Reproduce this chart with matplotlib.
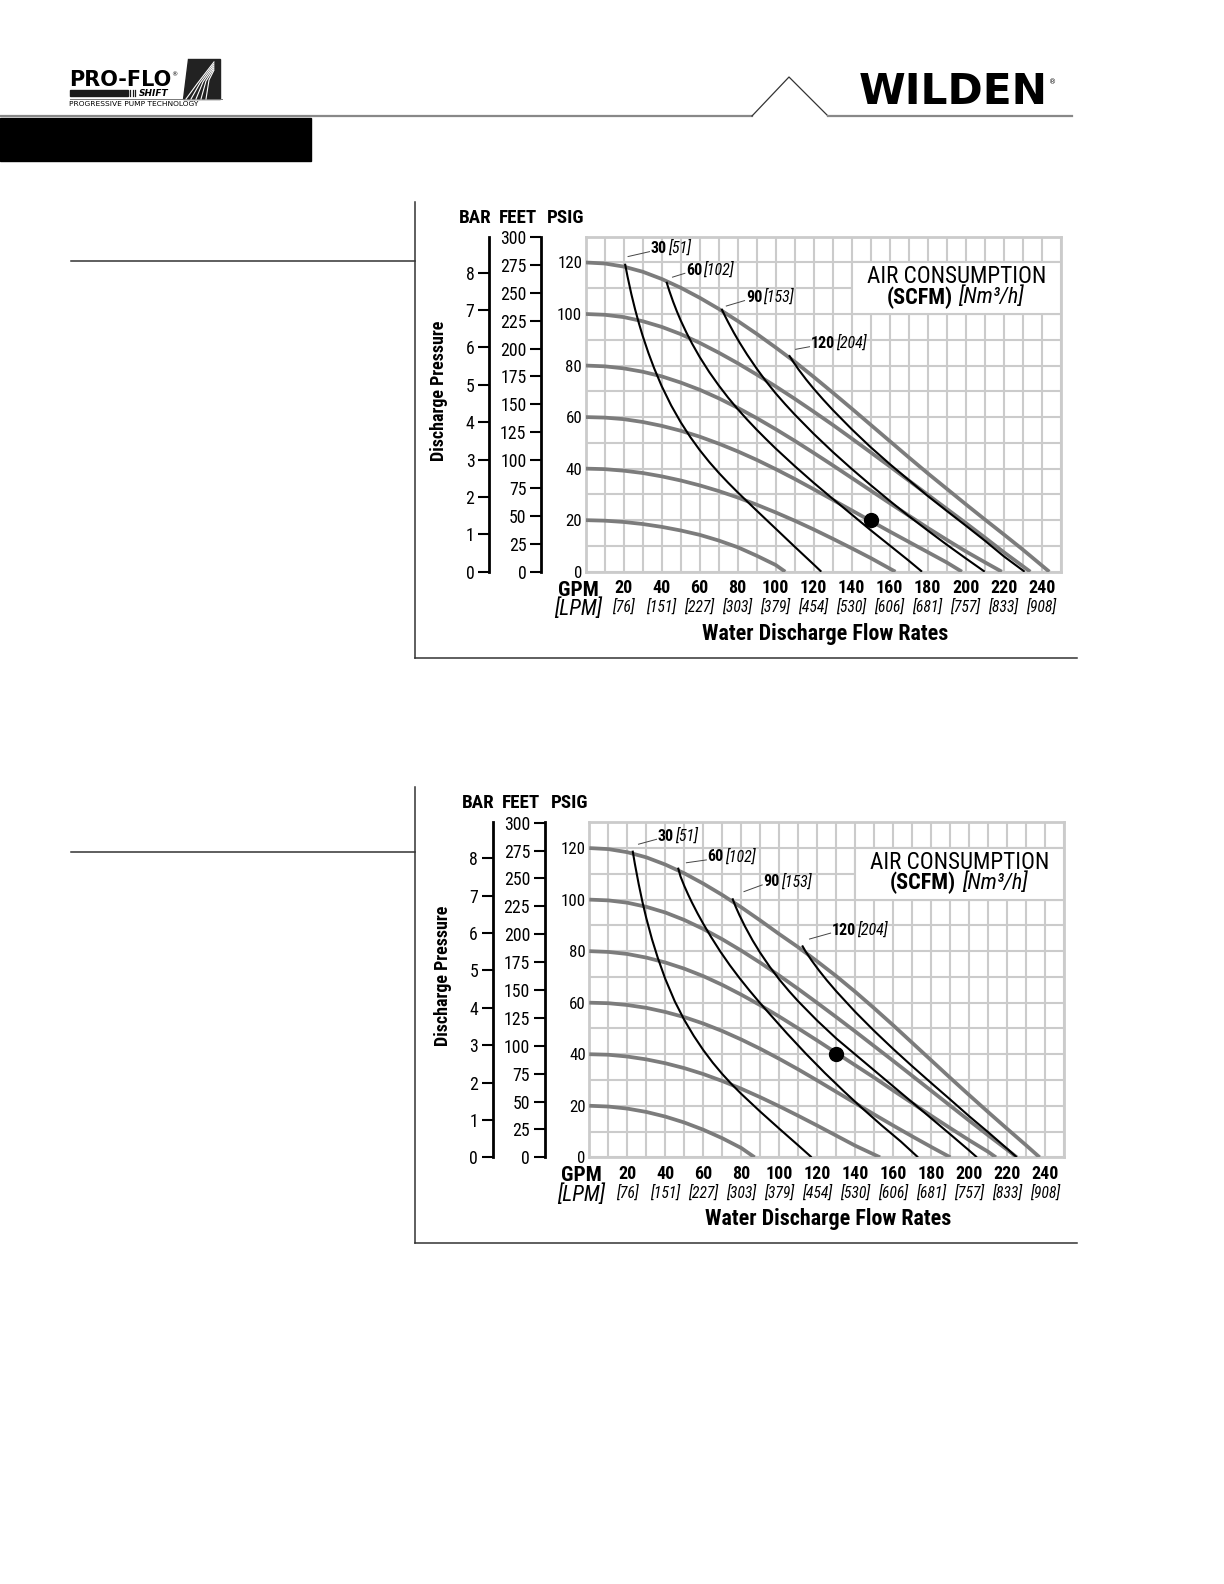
import os
import matplotlib
matplotlib.use("Agg")
import matplotlib.pyplot as plt
from matplotlib import font_manager, transforms
from matplotlib.patches import Rectangle, Polygon

W, H = 1224, 1584

# ---------------- data ----------------
PSIG_TICKS = [0, 20, 40, 60, 80, 100, 120]
FEET_TICKS = [0, 25, 50, 75, 100, 125, 150, 175, 200, 225, 250, 275, 300]
BAR_TICKS = [0, 1, 2, 3, 4, 5, 6, 7, 8]
GPM_TICKS = [20, 40, 60, 80, 100, 120, 140, 160, 180, 200, 220, 240]
LPM_LABELS = ['[76]', '[151]', '[227]', '[303]', '[379]', '[454]', '[530]',
              '[606]', '[681]', '[757]', '[833]', '[908]']
AIR_SCFM = ['30', '60', '90', '120']
AIR_NM3H = ['[51]', '[102]', '[153]', '[204]']
FT_PER_PSI = 2.31
PSI_PER_BAR = 14.504

# upper chart: inlet air pressure curves (gpm, psig)
TOP_P20 = [(0, 20), (10, 19.8), (20, 19.3), (30, 18.5), (40, 17.4), (50, 16), (60, 14.3), (70, 12.1),
           (80, 9.5), (90, 6.2), (100, 2.6), (105, 0)]
TOP_P40 = [(0, 40), (10, 39.8), (20, 39.2), (30, 38.3), (40, 37), (50, 35.4), (60, 33.5), (70, 31.3),
           (80, 28.8), (90, 26), (100, 23), (110, 19.8), (120, 16.4), (130, 12.8), (140, 9.1), (150, 5.3),
           (163, 0)]
TOP_P60 = [(0, 60), (10, 59.8), (20, 59.2), (30, 58.1), (40, 56.6), (50, 54.7), (60, 52.4), (70, 49.7),
           (80, 46.7), (90, 43.4), (100, 39.8), (110, 36), (120, 32), (130, 27.9), (140, 23.8), (150, 19.7),
           (160, 15.6), (170, 11.6), (180, 7.6), (190, 3.6), (198, 0)]
TOP_P80 = [(0, 80), (10, 79.7), (20, 78.9), (30, 77.6), (40, 75.8), (50, 73.4), (60, 70.6), (70, 67.3),
           (80, 63.6), (90, 59.6), (100, 55.3), (110, 50.8), (120, 46.1), (130, 41.3), (140, 36.4), (150, 31.5),
           (160, 26.6), (170, 21.8), (180, 17), (190, 12.4), (200, 7.9), (210, 3.7), (219, 0)]
TOP_P100 = [(0, 100), (10, 99.7), (20, 98.8), (30, 97.2), (40, 95), (50, 92.2), (60, 88.8), (70, 85),
            (80, 80.9), (90, 76.5), (100, 71.9), (110, 67.1), (120, 62.1), (130, 57), (140, 51.7), (150, 46.3),
            (160, 40.9), (170, 35.4), (180, 29.9), (190, 24.4), (200, 18.9), (210, 13.3), (220, 7.6), (234, 0)]
TOP_P120 = [(0, 120), (10, 119.6), (20, 118.4), (30, 116.4), (40, 113.6), (50, 110.2), (60, 106.3), (70, 102),
            (80, 97.3), (90, 92.3), (100, 87), (110, 81.5), (120, 75.6), (130, 69.5), (140, 63.3), (150, 57),
            (160, 50.7), (170, 44.4), (180, 38.2), (190, 32.2), (200, 26.2), (210, 20.3), (220, 14.5),
            (230, 8.6), (244, 0)]
# upper chart: air consumption curves (gpm, psig)
TOP_A30 = [(20.7, 119.5), (22, 114.6), (24, 107.8), (26, 101.8), (28, 96.4), (30, 91.5), (33, 84.9), (36, 79),
           (40, 72), (45, 64.5), (50, 58), (55, 52.3), (60, 47.2), (65, 42.6), (70, 38.4), (75, 34.5),
           (80, 30.8), (90, 23.7), (100, 16.7), (110, 9.7), (120, 2.8), (124, 0)]
TOP_A60 = [(42.5, 112.5), (44, 109), (46, 104.8), (48, 101), (50, 97.5), (53, 92.8), (56, 88.5), (60, 83.3),
           (65, 77.5), (70, 72.3), (75, 67.5), (80, 63.1), (85, 59), (90, 55.1), (95, 51.4), (100, 47.8),
           (110, 41), (120, 34.5), (130, 28.3), (140, 22.2), (150, 16.1), (160, 10.2), (170, 4.3), (177, 0)]
TOP_A90 = [(71.5, 102), (73, 99.7), (75, 96.8), (78, 92.7), (81, 88.9), (85, 84.2), (90, 78.8), (95, 73.8),
           (100, 69.2), (105, 65), (110, 61), (120, 53.5), (130, 46.5), (140, 39.9), (150, 33.6), (160, 27.5),
           (170, 21.6), (180, 16), (190, 10.5), (200, 5.2), (210, 0)]
TOP_A120 = [(107, 84), (109, 81.7), (112, 78.5), (116, 74.6), (120, 71), (125, 66.8), (130, 62.8), (140, 55.3),
            (150, 48.3), (160, 41.8), (170, 35.6), (180, 29.4), (190, 23.6), (200, 17.9), (210, 12.1),
            (220, 6), (231, 0)]
TOP_DOT = (150, 20)

# lower chart
BOT_P20 = [(0, 20), (10, 19.7), (20, 18.9), (30, 17.6), (40, 15.8), (50, 13.5), (60, 10.7), (70, 7.4),
           (80, 3.6), (87, 0)]
BOT_P40 = [(0, 40), (10, 39.8), (20, 39.1), (30, 38), (40, 36.5), (50, 34.6), (60, 32.3), (70, 29.6),
           (80, 26.6), (90, 23.3), (100, 19.8), (110, 16.1), (120, 12.3), (130, 8.4), (140, 4.5), (153, 0)]
BOT_P60 = [(0, 60), (10, 59.8), (20, 59.1), (30, 58), (40, 56.4), (50, 54.4), (60, 51.9), (70, 49),
           (80, 45.7), (90, 42.1), (100, 38.2), (110, 34.1), (120, 29.8), (130, 25.4), (140, 21), (150, 16.6),
           (160, 12.3), (170, 8.1), (180, 4), (190, 0)]
BOT_P80 = [(0, 80), (10, 79.7), (20, 78.9), (30, 77.5), (40, 75.6), (50, 73.2), (60, 70.3), (70, 66.9),
           (80, 63.1), (90, 59), (100, 54.6), (110, 50), (120, 45.3), (130, 40.5), (140, 35.7), (150, 30.9),
           (160, 25.9), (170, 21), (180, 16.1), (190, 11.3), (200, 6.6), (210, 2.1), (214, 0)]
BOT_P100 = [(0, 100), (10, 99.7), (20, 98.8), (30, 97.2), (40, 95), (50, 92.1), (60, 88.6), (70, 84.6),
            (80, 80.2), (90, 75.5), (100, 70.5), (110, 65.3), (120, 59.9), (130, 54.4), (140, 48.8),
            (150, 43.1), (160, 37.4), (170, 31.6), (180, 25.8), (190, 20), (200, 14.2), (210, 8.5),
            (220, 2.9), (225, 0)]
BOT_P120 = [(0, 120), (10, 119.6), (20, 118.4), (30, 116.4), (40, 113.6), (50, 110.2), (60, 106.2),
            (70, 101.8), (80, 97), (90, 91.9), (100, 86.6), (110, 81.5), (120, 76), (130, 70.3), (140, 64.2),
            (150, 57.8), (160, 51.2), (170, 44.4), (180, 37.6), (190, 30.8), (200, 24.1), (210, 17.5),
            (220, 11), (230, 4.6), (237, 0)]
BOT_A30 = [(22.8, 119), (24, 113.8), (26, 106), (28, 99), (30, 92.8), (33, 84.6), (36, 77.5), (40, 69.2),
           (45, 60.5), (50, 53.3), (55, 47.1), (60, 41.6), (65, 36.7), (70, 32.3), (75, 28.3), (80, 24.6),
           (90, 17.7), (100, 11.1), (110, 4.6), (117, 0)]
BOT_A60 = [(46.7, 112.4), (48, 109), (50, 105.3), (52, 102), (54, 98.9), (57, 94.6), (60, 90.6), (64, 85.6),
           (69, 79.8), (74, 74.5), (79, 69.6), (84, 65), (89, 60.6), (94, 56.4), (104, 48.1), (114, 40.2),
           (124, 32.7), (134, 25.6), (144, 18.8), (154, 12.3), (164, 6.1), (173, 0)]
BOT_A90 = [(75.3, 100.5), (77, 97.3), (79, 94), (82, 89.5), (86, 84.1), (90, 79.3), (95, 73.9), (100, 69),
           (105, 64.6), (110, 60.5), (120, 53), (130, 46.1), (140, 39.9), (150, 33.7), (160, 27.5),
           (170, 21.3), (180, 15.1), (190, 8.9), (200, 2.6), (204, 0)]
BOT_A120 = [(112, 82.2), (114, 79.7), (117, 76.4), (121, 72.4), (125, 68.7), (130, 64.4), (140, 56.4),
            (150, 49), (160, 42), (170, 35.3), (180, 28.8), (190, 22.4), (200, 15.9), (210, 9.7), (220, 3.3),
            (225, 0)]
BOT_DOT = (130, 40)

# leader lines for the air consumption tags (start, end) in chart units
TOP_TAGS = [((22.3, 122.3), (33.6, 124.2)), ((45.7, 114.3), (52.2, 115.8)),
            ((74, 103.1), (83.6, 105.2)), ((110.5, 86.3), (117.8, 87.3))]
BOT_TAGS = [((25.9, 121.5), (35.4, 123.4)), ((51.1, 114.3), (61.6, 115.4)),
            ((81.4, 103.1), (91, 105.7)), ((115.9, 84.7), (127, 87))]

# ---------------- fonts ----------------
# condensed face for the chart text, first one found wins
files = {os.path.basename(f.fname): f.fname for f in font_manager.fontManager.ttflist}
GROUPS = [
    (1.18, {'r': 'RobotoCondensed-Regular.ttf', 'b': 'RobotoCondensed-Bold.ttf',
            'i': 'RobotoCondensed-Italic.ttf'}),
    (1.18, {'r': 'AsapCondensed-Regular.ttf', 'b': 'AsapCondensed-Bold.ttf', 'i': 'AsapCondensed-Italic.ttf'}),
    (1.0, {'r': 'DejaVuSansCondensed.ttf', 'b': 'DejaVuSansCondensed-Bold.ttf',
           'i': 'DejaVuSansCondensed-Oblique.ttf'}),
]
FONT_FILES, K = None, 1.0
for k, g in GROUPS:
    if all(v in files for v in g.values()):
        FONT_FILES = {s: files[v] for s, v in g.items()}
        K = k
        break


def fp(size, kind='r'):
    if FONT_FILES:
        return font_manager.FontProperties(fname=FONT_FILES[kind], size=size * K)
    return font_manager.FontProperties(family='DejaVu Sans', size=size * 0.85,
                                       weight='bold' if kind == 'b' else 'normal',
                                       style='italic' if kind == 'i' else 'normal')


GRID = '#cbcbcb'
GRAY = '#7c7c7c'
PW, PH = 475, 335

fig = plt.figure(figsize=(W / 100, H / 100), dpi=100)
ov = fig.add_axes([0, 0, 1, 1])
ov.set_xlim(0, W)
ov.set_ylim(H, 0)
ov.axis('off')


def px_axes(x, y, w, h):
    return fig.add_axes([x / W, 1 - (y + h) / H, w / W, h / H])


def side_axis(x, top, ticks, ymax):
    a = px_axes(x, top, 1, PH)
    a.patch.set_visible(False)
    for k in ['right', 'top', 'bottom']:
        a.spines[k].set_visible(False)
    a.spines['left'].set_linewidth(2.0)
    a.set_xticks([])
    a.set_ylim(0, ymax)
    a.set_yticks(ticks)
    a.set_yticklabels([str(t) for t in ticks], fontproperties=fp(10.8))
    a.tick_params(axis='y', length=8, width=1.5, pad=2.5, direction='out')


def draw_chart(L, T, gray, air, tags, dot, rule_y):
    B = T + PH
    ax = px_axes(L, T, PW, PH)
    ax.set_xlim(0, 250)
    ax.set_ylim(0, 130)
    ax.set_xticks(range(0, 251, 10))
    ax.set_xticklabels([])
    ax.set_yticks(range(0, 131, 10))
    ax.set_yticklabels([str(v) if v in PSIG_TICKS else '' for v in range(0, 131, 10)],
                       fontproperties=fp(10.3))
    ax.tick_params(length=0, pad=2.5)
    ax.grid(True, color=GRID, lw=1.5)
    ax.set_axisbelow(True)
    for s in ax.spines.values():
        s.set_color(GRID)
        s.set_linewidth(2)

    ax.add_patch(Rectangle((140, 100), 110, 20, fc='white', ec=GRID, lw=1.5, zorder=1.5))
    ax.text(195, 114.5, 'AIR CONSUMPTION', ha='center', va='center', fontproperties=fp(14.1), zorder=5)
    ax.annotate('(SCFM)', xy=(194.5, 106.4), xytext=(-2, 0), textcoords='offset points',
                ha='right', va='center', fontproperties=fp(13.5, 'b'), zorder=5)
    ax.annotate('[Nm³/h]', xy=(194.5, 106.4), xytext=(2, 0), textcoords='offset points',
                ha='left', va='center', fontproperties=fp(13.5, 'i'), zorder=5)

    for c in gray:
        ax.plot([p[0] for p in c], [p[1] for p in c], color=GRAY, lw=2.7,
                solid_capstyle='butt', solid_joinstyle='round', zorder=3)
    for c in air:
        ax.plot([p[0] for p in c], [p[1] for p in c], color='black', lw=1.5,
                solid_capstyle='butt', solid_joinstyle='round', zorder=4)
    ax.plot(dot[0], dot[1], 'o', ms=10, color='black', zorder=6)

    for (a, b), num, m3 in zip(tags, AIR_SCFM, AIR_NM3H):
        ax.plot([a[0], b[0]], [a[1], b[1]], color='#444444', lw=0.7, zorder=4)
        t = ax.text(b[0] + 0.7, b[1] + 1.2, num, ha='left', va='center', fontproperties=fp(9.8, 'b'),
                    zorder=5)
        ax.annotate(m3, xy=(1, 0), xycoords=t, xytext=(0.5, 0), textcoords='offset points',
                    ha='left', va='bottom', fontproperties=fp(9.8, 'i'), zorder=5)

    tr = ax.get_xaxis_transform()
    for g, lpm in zip(GPM_TICKS, LPM_LABELS):
        ax.text(g, 0, str(g), transform=transforms.offset_copy(tr, fig=fig, y=-16.5, units='dots'),
                ha='center', va='center', fontproperties=fp(11, 'b'))
        ax.text(g, 0, lpm, transform=transforms.offset_copy(tr, fig=fig, y=-35, units='dots'),
                ha='center', va='center', fontproperties=fp(9.6, 'i'))

    side_axis(L - 96.7, T, BAR_TICKS, 130 / PSI_PER_BAR)
    side_axis(L - 44.7, T, FEET_TICKS, 130 * FT_PER_PSI)

    for lab, dx in [('BAR', -111), ('FEET', -68), ('PSIG', -20)]:
        ov.text(L + dx, T - 19, lab, ha='center', va='center', fontproperties=fp(11.6, 'b'))
    ov.text(L - 146.7, T + 154, 'Discharge Pressure', rotation=90, ha='center', va='center',
            fontproperties=fp(11, 'b'))
    ov.text(L - 7.7, B + 18.5, 'GPM', ha='center', va='center', fontproperties=fp(13, 'b'))
    ov.text(L - 7.7, B + 37.5, '[LPM]', ha='center', va='center', fontproperties=fp(13.2, 'i'))
    ov.text(L + 239.3, B + 62, 'Water Discharge Flow Rates', ha='center', va='center',
            fontproperties=fp(13.4, 'b'))

    # section frame
    ov.plot([71, 415], [rule_y, rule_y], color='#333333', lw=1.1)
    ov.plot([415, 415], [T - 35, B + 86], color='#333333', lw=1.1)
    ov.plot([415, 1077], [B + 86, B + 86], color='#333333', lw=1.1)


# ---------------- header ----------------
ov.plot([0, 752], [116, 116], color='#888888', lw=1.6)
ov.plot([752, 789, 828], [116, 77, 116], color='#333333', lw=0.9)
ov.plot([828, 1072], [116, 116], color='#888888', lw=1.6)
ov.add_patch(Rectangle((0, 118), 311, 43, color='black'))
wt = ov.text(859, 104, 'WILDEN', family='DejaVu Sans', weight='heavy', fontsize=30.5, va='baseline')
ov.annotate('®', xy=(1, 1), xycoords=wt, xytext=(1, -6), textcoords='offset points',
            ha='left', va='top', fontsize=5)

pt = ov.text(69, 86, 'PRO-FLO', family='DejaVu Sans', weight='bold', fontsize=15, va='baseline')
ov.annotate('®', xy=(1, 1), xycoords=pt, xytext=(0, -2), textcoords='offset points',
            ha='left', va='top', fontsize=4.5)
ov.add_patch(Rectangle((70, 90), 58, 6, color='#1a1a1a'))
for x in [130, 132.5, 135]:
    ov.plot([x, x], [90, 96], color='#1a1a1a', lw=0.9)
ov.text(139, 95.5, 'SHIFT', family='DejaVu Sans', weight='bold', style='italic', fontsize=6.5, va='baseline')
ov.plot([70, 222], [99, 99], color='#777777', lw=0.7)
ov.text(69, 103.5, 'PROGRESSIVE PUMP TECHNOLOGY', family='DejaVu Sans', fontsize=5.4, va='center')
ov.add_patch(Polygon([(188, 59), (220, 59), (220, 99), (183, 99)], closed=True, color='#222222'))
for k in range(5):
    ov.plot([186 + 5 * k, 197 + 3 * k, 214], [99, 84 - k, 62 + 2 * k], color='white', lw=0.8)

draw_chart(585.7, 236.7, [TOP_P20, TOP_P40, TOP_P60, TOP_P80, TOP_P100, TOP_P120],
           [TOP_A30, TOP_A60, TOP_A90, TOP_A120], TOP_TAGS, TOP_DOT, 260.7)
draw_chart(589.3, 822.3, [BOT_P20, BOT_P40, BOT_P60, BOT_P80, BOT_P100, BOT_P120],
           [BOT_A30, BOT_A60, BOT_A90, BOT_A120], BOT_TAGS, BOT_DOT, 852.4)

fig.savefig('out.png', dpi=100)
